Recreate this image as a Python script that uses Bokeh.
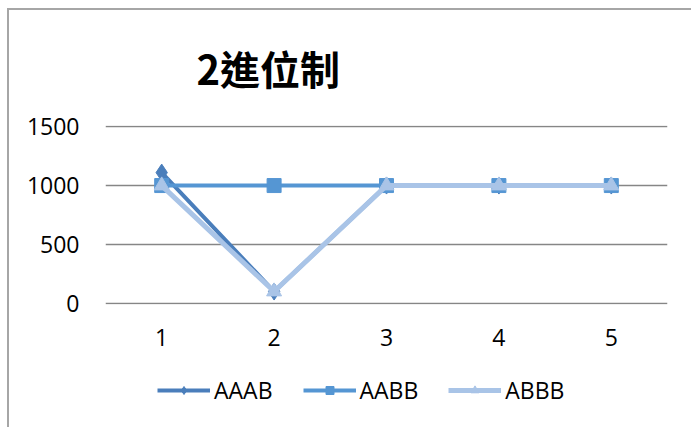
from bokeh.plotting import figure
from bokeh.layouts import column
from bokeh.models import Legend, LegendItem, FixedTicker, Range1d
from bokeh.embed import file_html
from bokeh.resources import INLINE

# Series data
x_vals = [1, 2, 3, 4, 5]
aaab = [1110, 100, 1000, 1000, 1000]
aabb = [1000, 1000, 1000, 1000, 1000]
abbb = [1000, 100, 1000, 1000, 1000]
y_ticks = [0, 500, 1000, 1500]
series_names = ["AAAB", "AABB", "ABBB"]

TITLE = "2進位制"
FONT = "Open Sans"
colors = ["#4a7ebb", "#5596d3", "#a9c4e7"]
markers = ["diamond", "square", "triangle"]
marker_sizes = [17, 14, 15]
line_widths = [4, 4, 5]
series = [aaab, aabb, abbb]

p = figure(frame_width=562, frame_height=179, output_backend="svg", toolbar_location=None,
           x_range=Range1d(0.5, 5.5), y_range=Range1d(-10, 1510))
p.min_border_left = 96
p.min_border_right = 24
p.min_border_top = 115
p.min_border_bottom = 60
p.outline_line_color = None
p.background_fill_color = "white"
p.border_fill_color = "white"

# Title
p.title.text = TITLE
p.title.text_font = "Noto Sans CJK TC"
p.title.text_font_size = "40px"
p.title.text_font_style = "bold"
p.title.text_color = "black"
p.title.align = "left"
p.title.vertical_align = "middle"
p.title.offset = 91
p.title.standoff = 55

# Axes
p.xaxis.ticker = FixedTicker(ticks=x_vals)
p.yaxis.ticker = FixedTicker(ticks=y_ticks)
for ax in (p.xaxis[0], p.yaxis[0]):
    ax.axis_line_color = None
    ax.major_tick_line_color = None
    ax.minor_tick_line_color = None
    ax.major_label_text_font = FONT
    ax.major_label_text_font_size = "23px"
    ax.major_label_text_color = "black"
p.yaxis.major_label_standoff = 20
p.xaxis.major_label_standoff = 18

p.xgrid.grid_line_color = None
p.ygrid.grid_line_color = "#868686"
p.ygrid.grid_line_width = 1.5

for ys, c, mk, ms, lw in zip(series, colors, markers, marker_sizes, line_widths):
    p.line(x_vals, ys, line_color=c, line_width=lw)
    p.scatter(x_vals, ys, marker=mk, size=ms, fill_color=c, line_color=c)

# Legend strip under the chart; its renderers carry the series but lie outside
# the strip's (empty) view, so only the legend keys show.
lf = figure(width=682, height=63, output_backend="svg", toolbar_location=None,
            x_axis_type=None, y_axis_type=None,
            x_range=Range1d(-2, -1), y_range=Range1d(-2, -1))
lf.min_border = 0
lf.outline_line_color = None
lf.border_fill_color = "white"

items = []
for name, ys, c, mk, ms, lw in zip(series_names, series, colors, markers, marker_sizes, line_widths):
    lr = lf.line(x_vals, ys, line_color=c, line_width=lw)
    sr = lf.scatter(x_vals, ys, marker=mk, size=ms - 4, fill_color=c, line_color=c)
    items.append(LegendItem(label=name, renderers=[lr, sr]))

legend = Legend(items=items, orientation="horizontal", location=(52, 21),
                border_line_color=None, background_fill_alpha=0,
                label_text_font=FONT, label_text_font_size="23px",
                label_text_color="black",
                glyph_width=53, glyph_height=20, label_standoff=4, spacing=30,
                margin=0, padding=0)
lf.add_layout(legend)

layout = column(p, lf, spacing=0)
# chart-area border: only its top and left edges fall inside the window
layout.styles = {"border-left": "2px solid #a6a6a6", "border-top": "2px solid #a6a6a6",
                 "margin-left": "7px", "margin-top": "8px"}

open("out.html", "w").write(file_html(layout, INLINE))
